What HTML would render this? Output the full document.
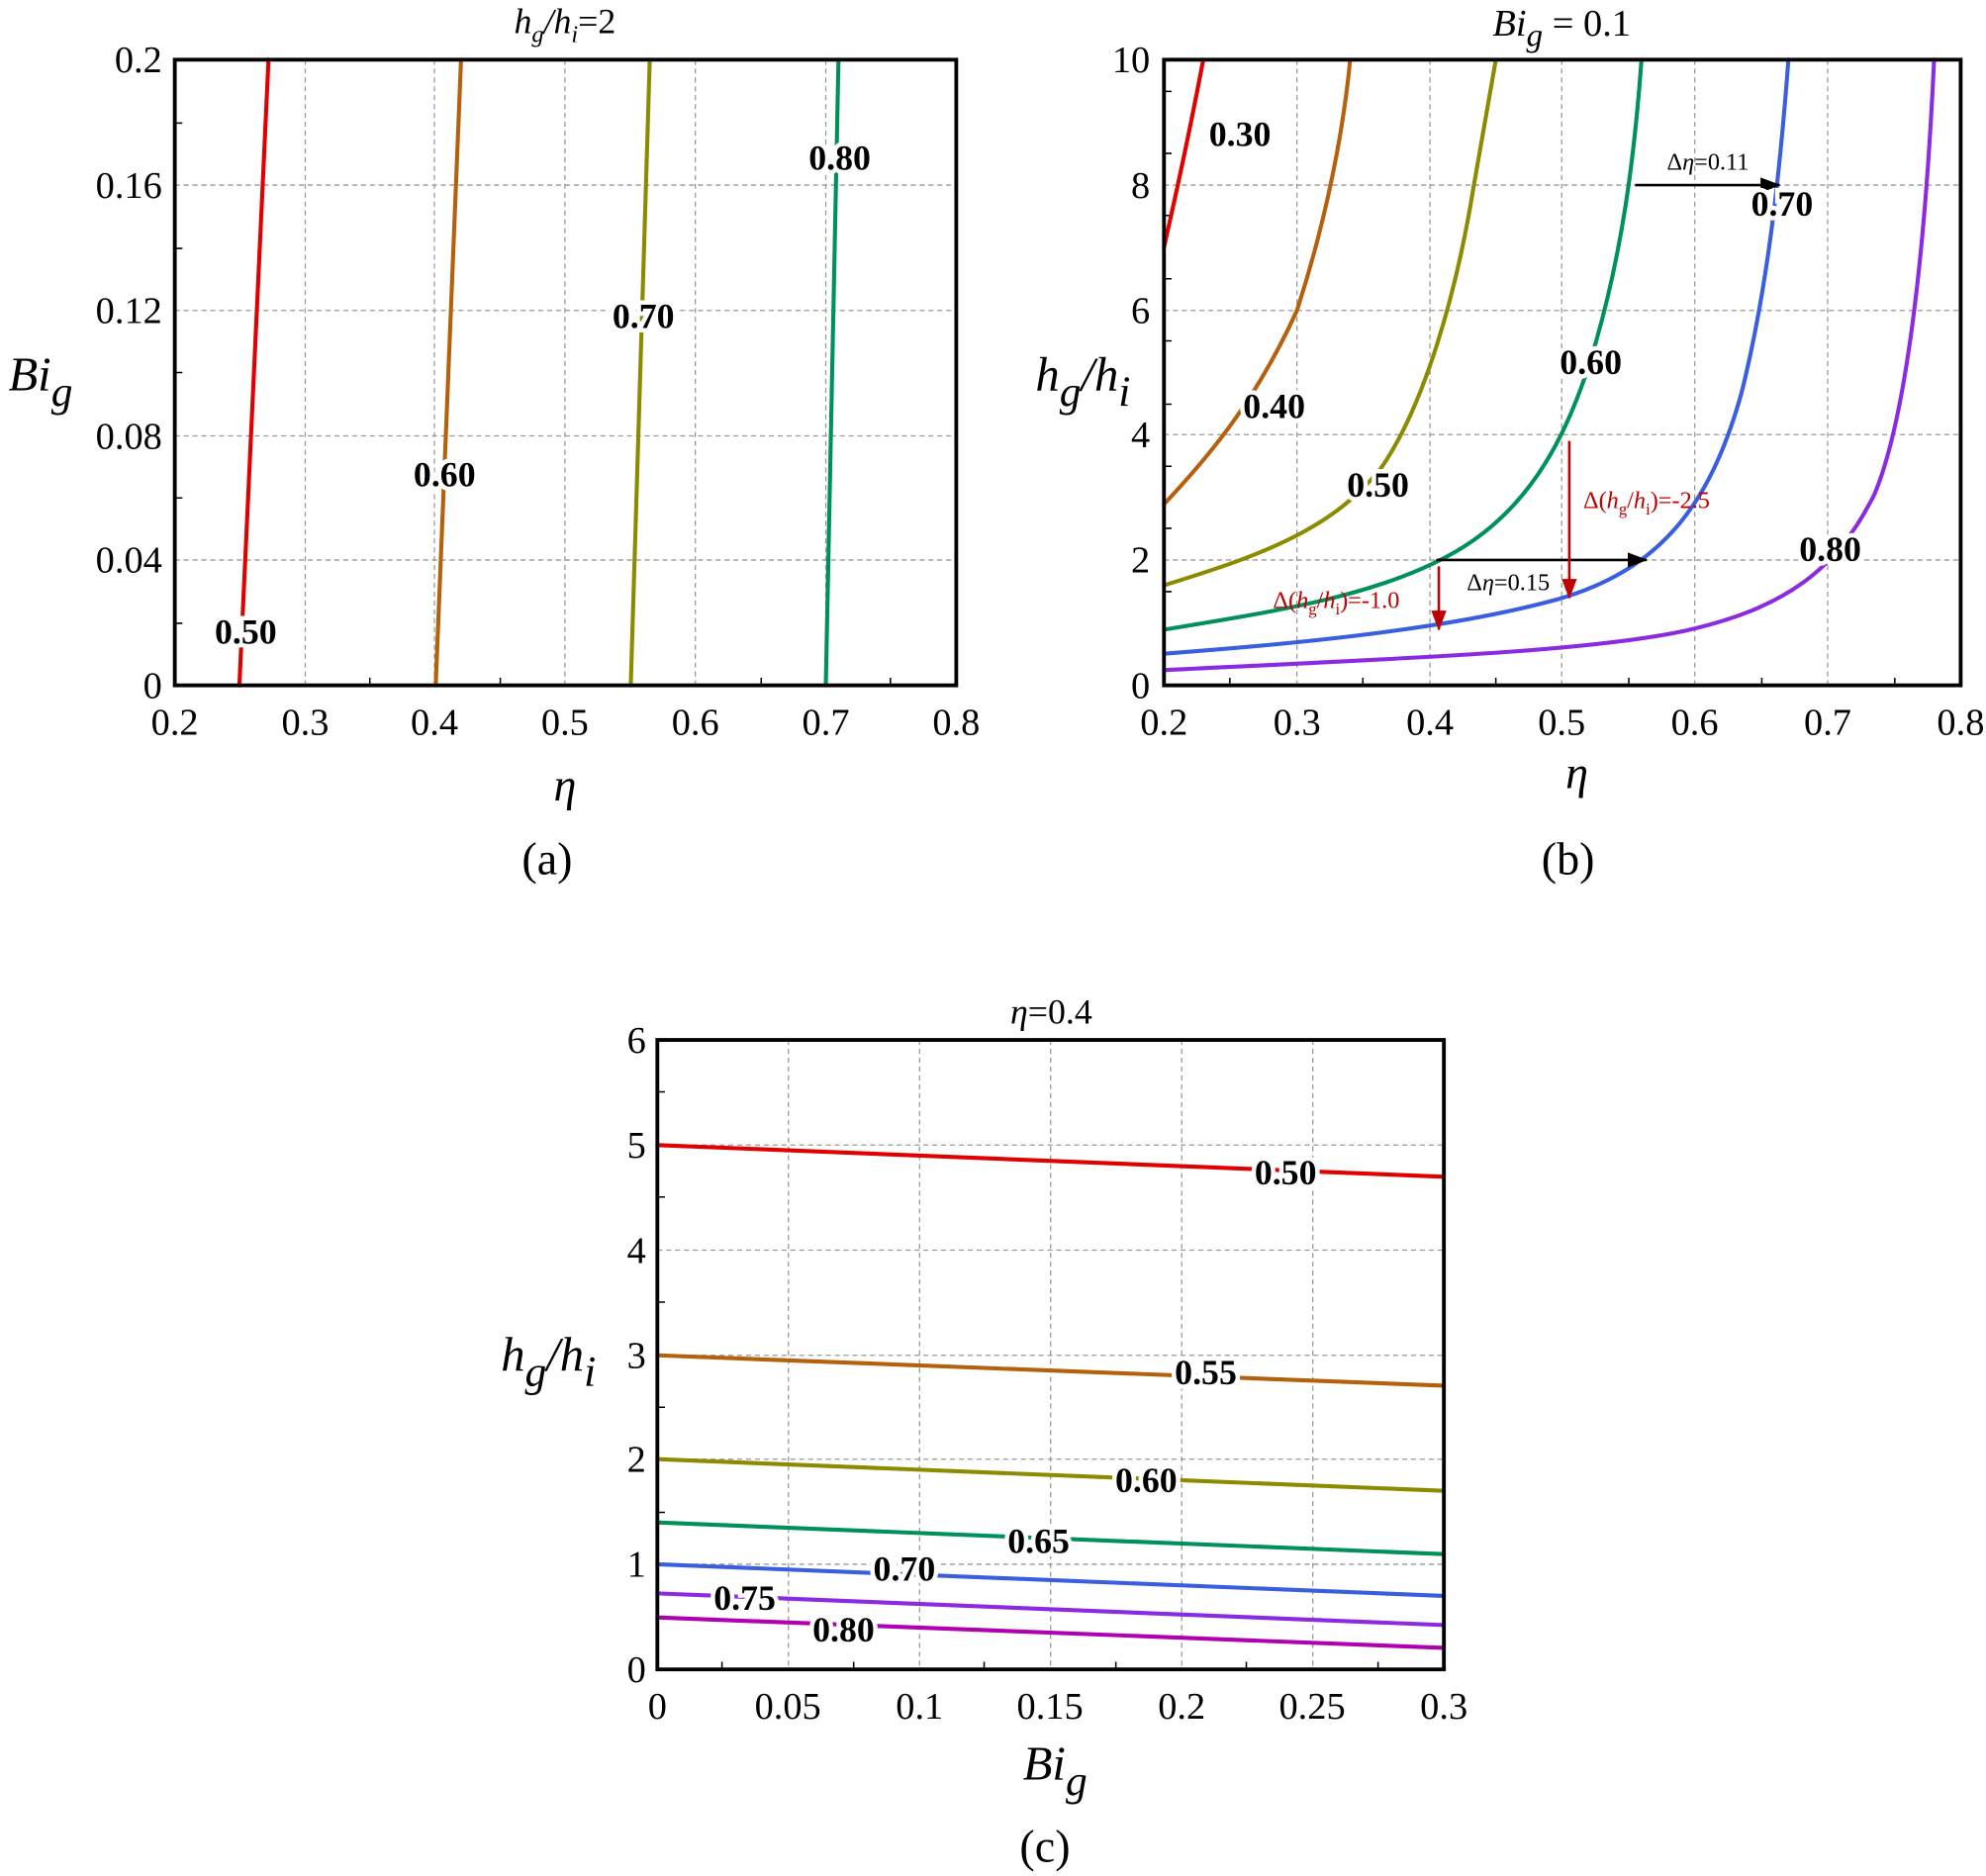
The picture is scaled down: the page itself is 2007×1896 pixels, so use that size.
<!DOCTYPE html>
<html><head><meta charset="utf-8"><style>html,body{margin:0;padding:0;background:#fff}svg{display:block}svg text{font-family:"Times New Roman","Liberation Serif",Times,serif}</style></head><body>
<svg width="2007" height="1896" viewBox="0 0 1568 1481" xmlns="http://www.w3.org/2000/svg">
<defs>
<marker id="ar" markerWidth="16" markerHeight="12" refX="15" refY="6" orient="auto" markerUnits="userSpaceOnUse"><path d="M0,0 L16,6 L0,12z" fill="#c00000"/></marker>
<marker id="ak" markerWidth="16" markerHeight="12" refX="15" refY="6" orient="auto" markerUnits="userSpaceOnUse"><path d="M0,0 L16,6 L0,12z" fill="#000"/></marker>
</defs>
<g stroke="#999" stroke-width="1" stroke-dasharray="4,3" fill="none">
<path d="M241,47V541M343,47V541M446,47V541M549,47V541M652,47V541M138,442H755M138,344H755M138,245H755M138,146H755"/>
<path d="M1024,47V541M1129,47V541M1233,47V541M1338,47V541M1443,47V541M919,442H1548M919,343H1548M919,245H1548M919,146H1548"/>
<path d="M622.5,821V1318M726,821V1318M829.5,821V1318M933,821V1318M1036.5,821V1318M519,1235H1140M519,1152H1140M519,1070H1140M519,987H1140M519,904H1140"/>
</g>
<g stroke="#000" stroke-width="1.2">
<path d="M138,492h6M138,393h6M138,294h6M138,196h6M138,97h6M189,541v-6M292,541v-6M395,541v-6M498,541v-6M601,541v-6M703,541v-6"/>
<path d="M919,516h6M919,467h6M919,417h6M919,368h6M919,319h6M919,269h6M919,220h6M919,170h6M919,121h6M919,72h6M971,541v-6M1076,541v-6M1181,541v-6M1286,541v-6M1391,541v-6M1496,541v-6"/>
<path d="M519,1277h6M519,1194h6M519,1111h6M519,1028h6M519,945h6M519,862h6M570,1318v-6M674,1318v-6M777,1318v-6M881,1318v-6M984,1318v-6M1088,1318v-6"/>
</g>
<g fill="none" stroke-width="3.2" stroke-linecap="round" stroke-linejoin="round">
<path d="M189,541L212,47" stroke="#e00000"/>
<path d="M344,541L364,47" stroke="#b5600c"/>
<path d="M498,541L513,47" stroke="#8b8b00"/>
<path d="M652,541L662,47" stroke="#00905a"/>
<path d="M919,195C927,160 940,100 950,47" stroke="#e00000"/>
<path d="M919,398C950,365 990,320 1024,245C1045,180 1060,110 1066,47" stroke="#b5600c"/>
<path d="M919,462C990,440 1050,420 1090,370C1125,320 1150,230 1163,150C1170,110 1177,70 1181,47" stroke="#8b8b00"/>
<path d="M919,497C1010,482 1090,470 1150,435C1210,400 1240,340 1260,270C1280,200 1290,130 1296,47" stroke="#00905a"/>
<path d="M919,516C1040,507 1150,495 1230,473C1310,450 1350,400 1375,310C1395,230 1405,140 1412,47" stroke="#3a5ee0"/>
<path d="M919,529C1100,520 1250,515 1330,498C1410,480 1450,450 1480,390C1505,330 1520,200 1527,47" stroke="#8a2be2"/>
<path d="M519,904L1140,929" stroke="#e00000"/>
<path d="M519,1070L1140,1094" stroke="#b5600c"/>
<path d="M519,1152L1140,1177" stroke="#8b8b00"/>
<path d="M519,1202L1140,1227" stroke="#00905a"/>
<path d="M519,1235L1140,1260" stroke="#3a5ee0"/>
<path d="M519,1258L1140,1283" stroke="#8a2be2"/>
<path d="M519,1277L1140,1301" stroke="#b000b0"/>
</g>
<g fill="none" stroke="#000" stroke-width="3">
<rect x="138" y="47" width="617" height="494"/>
<rect x="919" y="47" width="629" height="494"/>
<rect x="519" y="821" width="621" height="497"/>
</g>
<g stroke-width="2" fill="none">
<path d="M1291,146H1405" stroke="#000" marker-end="url(#ak)"/>
<path d="M1134,442H1300" stroke="#000" marker-end="url(#ak)"/>
<path d="M1239,348V472" stroke="#c00000" marker-end="url(#ar)"/>
<path d="M1136,447V497" stroke="#c00000" marker-end="url(#ar)"/>
</g>
<g font-weight="bold" font-size="28" text-anchor="middle" fill="#000" stroke="#fff" stroke-width="7" paint-order="stroke">
<text x="194" y="508">0.50</text>
<text x="351" y="384">0.60</text>
<text x="508" y="259">0.70</text>
<text x="663" y="134">0.80</text>
<text x="979" y="115">0.30</text>
<text x="1006" y="330">0.40</text>
<text x="1088" y="392">0.50</text>
<text x="1256" y="295">0.60</text>
<text x="1407" y="170">0.70</text>
<text x="1445" y="443">0.80</text>
<text x="1015" y="935">0.50</text>
<text x="952" y="1093">0.55</text>
<text x="905" y="1178">0.60</text>
<text x="820" y="1226">0.65</text>
<text x="714" y="1248">0.70</text>
<text x="588" y="1271">0.75</text>
<text x="666" y="1296">0.80</text>
</g>
<g font-size="19">
<text x="1316" y="134" fill="#000">Δ<tspan font-style="italic">η</tspan>=0.11</text>
<text x="1158" y="466" fill="#000">Δ<tspan font-style="italic">η</tspan>=0.15</text>
<text x="1250" y="401" fill="#c00000">Δ(<tspan font-style="italic">h</tspan><tspan font-size="13" dy="5">g</tspan><tspan dy="-5">/</tspan><tspan font-style="italic">h</tspan><tspan font-size="13" dy="5">i</tspan><tspan dy="-5">)=-2.5</tspan></text>
<text x="1005" y="480" fill="#c00000">Δ(<tspan font-style="italic">h</tspan><tspan font-size="13" dy="5">g</tspan><tspan dy="-5">/</tspan><tspan font-style="italic">h</tspan><tspan font-size="13" dy="5">i</tspan><tspan dy="-5">)=-1.0</tspan></text>
</g>
<g font-size="30" fill="#000">
<g text-anchor="middle">
<text x="138" y="580">0.2</text><text x="241" y="580">0.3</text><text x="343" y="580">0.4</text><text x="446" y="580">0.5</text><text x="549" y="580">0.6</text><text x="652" y="580">0.7</text><text x="755" y="580">0.8</text>
<text x="919" y="580">0.2</text><text x="1024" y="580">0.3</text><text x="1129" y="580">0.4</text><text x="1233" y="580">0.5</text><text x="1338" y="580">0.6</text><text x="1443" y="580">0.7</text><text x="1548" y="580">0.8</text>
<text x="519" y="1357">0</text><text x="622" y="1357">0.05</text><text x="726" y="1357">0.1</text><text x="829" y="1357">0.15</text><text x="933" y="1357">0.2</text><text x="1036" y="1357">0.25</text><text x="1140" y="1357">0.3</text>
</g>
<g text-anchor="end">
<text x="128" y="551">0</text><text x="128" y="452">0.04</text><text x="128" y="354">0.08</text><text x="128" y="255">0.12</text><text x="128" y="156">0.16</text><text x="128" y="57">0.2</text>
<text x="908" y="551">0</text><text x="908" y="452">2</text><text x="908" y="353">4</text><text x="908" y="255">6</text><text x="908" y="156">8</text><text x="908" y="57">10</text>
<text x="510" y="1328">0</text><text x="510" y="1245">1</text><text x="510" y="1162">2</text><text x="510" y="1080">3</text><text x="510" y="997">4</text><text x="510" y="914">5</text><text x="510" y="831">6</text>
</g>
</g>
<g fill="#000" text-anchor="middle">
<text x="446" y="26" font-size="28"><tspan font-style="italic">h</tspan><tspan font-style="italic" font-size="19" dy="7">g</tspan><tspan dy="-7" font-style="italic">/h</tspan><tspan font-style="italic" font-size="19" dy="7">i</tspan><tspan dy="-7">=2</tspan></text>
<text x="1233" y="28" font-size="30"><tspan font-style="italic">Bi</tspan><tspan font-style="italic" font-size="26" dy="8">g</tspan><tspan dy="-8"> = 0.1</tspan></text>
<text x="830" y="808" font-size="28"><tspan font-style="italic">η</tspan>=0.4</text>
<text x="446" y="632" font-size="36" font-style="italic">η</text>
<text x="1245" y="622" font-size="36" font-style="italic">η</text>
<text x="32" y="308" font-size="38" font-style="italic">Bi<tspan font-size="34" dy="12">g</tspan></text>
<text x="855" y="308" font-size="38" font-style="italic">h<tspan font-size="34" dy="12">g</tspan><tspan dy="-12">/h</tspan><tspan font-size="34" dy="12">i</tspan></text>
<text x="433" y="1082" font-size="38" font-style="italic">h<tspan font-size="34" dy="12">g</tspan><tspan dy="-12">/h</tspan><tspan font-size="34" dy="12">i</tspan></text>
<text x="833" y="1405" font-size="38" font-style="italic">Bi<tspan font-size="34" dy="12">g</tspan></text>
<text x="432" y="690" font-size="36">(a)</text>
<text x="1238" y="690" font-size="36">(b)</text>
<text x="825" y="1470" font-size="36">(c)</text>
</g>
</svg>
</body></html>
